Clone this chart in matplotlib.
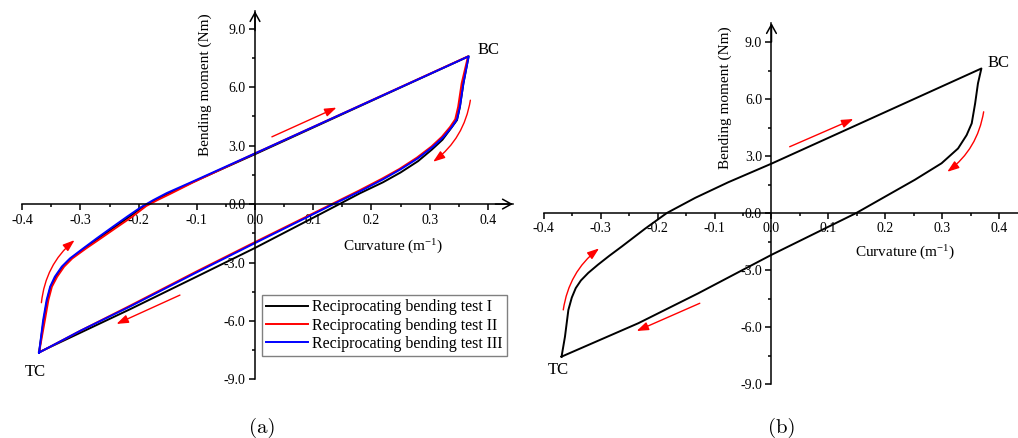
import matplotlib
matplotlib.use("Agg")
import matplotlib.pyplot as plt
from matplotlib.ticker import MultipleLocator, FuncFormatter

plt.rcParams["font.family"] = "Liberation Serif"
plt.rcParams["axes.unicode_minus"] = False
plt.rcParams["mathtext.fontset"] = "custom"
plt.rcParams["mathtext.rm"] = "Liberation Serif"
plt.rcParams["mathtext.it"] = "Liberation Serif:italic"

# reciprocating bending tests: curvature (1/m) vs bending moment (Nm)
# each loop starts at TC, goes up to BC and back down to TC
test1_curv = [-0.371, -0.363, -0.357, -0.351, -0.342, -0.330, -0.316, -0.293, -0.269,
              -0.241, -0.216, -0.192, -0.171, -0.149, -0.106, 0.000, 0.367,
              0.358, 0.352, 0.347, 0.337, 0.322, 0.304, 0.280, 0.250, 0.220,
              0.180, 0.145, 0.100, 0.000, -0.100, -0.215, -0.300, -0.371]
test1_moment = [-7.60, -5.95, -4.92, -4.24, -3.73, -3.21, -2.79, -2.27, -1.76,
                -1.18, -0.65, -0.12, 0.20, 0.54, 1.14, 2.56, 7.58,
                6.19, 4.99, 4.31, 3.90, 3.30, 2.80, 2.20, 1.62, 1.12,
                0.55, 0.00, -0.70, -2.25, -3.72, -5.40, -6.60, -7.60]

test2_curv = [-0.371, -0.361, -0.355, -0.349, -0.340, -0.328, -0.314, -0.290, -0.265,
              -0.237, -0.211, -0.187, -0.168, -0.146, -0.106, 0.000, 0.366,
              0.355, 0.349, 0.344, 0.335, 0.321, 0.303, 0.278, 0.248, 0.218,
              0.178, 0.132, 0.000, -0.100, -0.215, -0.300, -0.371]
test2_moment = [-7.62, -5.95, -4.92, -4.24, -3.73, -3.21, -2.79, -2.27, -1.76,
                -1.18, -0.65, -0.10, 0.20, 0.52, 1.12, 2.60, 7.58,
                6.19, 4.99, 4.35, 3.95, 3.45, 2.95, 2.38, 1.80, 1.30,
                0.68, 0.00, -1.95, -3.45, -5.22, -6.50, -7.62]

test3_curv = [-0.371, -0.364, -0.358, -0.352, -0.344, -0.332, -0.318, -0.295, -0.272,
              -0.245, -0.220, -0.197, -0.175, -0.152, -0.106, 0.000, 0.367,
              0.358, 0.352, 0.347, 0.338, 0.324, 0.306, 0.280, 0.250, 0.220,
              0.180, 0.135, 0.000, -0.100, -0.215, -0.300, -0.371]
test3_moment = [-7.62, -5.95, -4.92, -4.24, -3.73, -3.21, -2.79, -2.27, -1.76,
                -1.18, -0.65, -0.18, 0.20, 0.56, 1.17, 2.60, 7.58,
                6.19, 4.99, 4.35, 3.95, 3.45, 2.95, 2.35, 1.78, 1.27,
                0.65, 0.00, -2.00, -3.50, -5.26, -6.50, -7.62]

single_curv = [-0.369, -0.363, -0.357, -0.351, -0.344, -0.335, -0.322, -0.305, -0.285,
               -0.263, -0.222, -0.184, -0.134, -0.076, 0.000, 0.369,
               0.363, 0.358, 0.352, 0.343, 0.328, 0.299, 0.252, 0.199, 0.149,
               0.000, -0.129, -0.234, -0.369]
single_moment = [-7.56, -6.51, -5.10, -4.45, -3.95, -3.55, -3.15, -2.72, -2.25,
                 -1.76, -0.82, 0.00, 0.80, 1.62, 2.60, 7.61,
                 6.83, 5.77, 4.72, 4.10, 3.40, 2.62, 1.75, 0.85, 0.00,
                 -2.20, -4.23, -5.80, -7.56]

test_labels = ["Reciprocating bending test I", "Reciprocating bending test II",
               "Reciprocating bending test III"]
test_colors = ["black", "#ff0000", "#0000ff"]


def fmt_tick(v, pos):
    if abs(v) < 1e-9:
        v = 0.0
    return "%.1f" % v


def setup_axes(ax, xmax, ymax, x_arrow=True):
    ax.patch.set_alpha(0)
    ax.spines["top"].set_visible(False)
    ax.spines["right"].set_visible(False)
    ax.spines["left"].set_position(("data", 0))
    ax.spines["bottom"].set_position(("data", 0))
    ax.spines["left"].set_linewidth(1.1)
    ax.spines["bottom"].set_linewidth(1.1)
    ax.set_xlim(-0.4, xmax)
    ax.set_ylim(-9, ymax)
    ax.xaxis.set_major_locator(MultipleLocator(0.1))
    ax.xaxis.set_minor_locator(MultipleLocator(0.05))
    ax.yaxis.set_major_locator(MultipleLocator(3))
    ax.yaxis.set_minor_locator(MultipleLocator(1.5))
    ax.xaxis.set_major_formatter(FuncFormatter(fmt_tick))
    ax.yaxis.set_major_formatter(FuncFormatter(fmt_tick))
    ax.tick_params(which="major", direction="out", length=4.3, width=1.1,
                   labelsize=10, pad=2.5)
    ax.tick_params(which="minor", direction="out", length=2.3, width=1.1)
    arrow = dict(arrowstyle="->,head_length=0.45,head_width=0.25", lw=1.1,
                 color="black", mutation_scale=14, shrinkA=0, shrinkB=0)
    ax.annotate("", xy=(0, ymax), xytext=(0, ymax - 1), arrowprops=arrow,
                annotation_clip=False)
    if x_arrow:
        ax.annotate("", xy=(xmax, 0), xytext=(xmax - 0.03, 0), arrowprops=arrow,
                    annotation_clip=False)


def red_arrow(ax, start, end, rad=0.0):
    ax.annotate("", xy=end, xytext=start,
                arrowprops=dict(arrowstyle="-|>,head_length=0.7,head_width=0.25",
                                color="#ff0000", lw=1.0, mutation_scale=10,
                                shrinkA=0, shrinkB=0,
                                connectionstyle="arc3,rad=%s" % rad))


def labels(ax, bc_pos, tc_pos, ylab_pos, xlab_pos):
    ax.text(bc_pos[0], bc_pos[1], "BC", fontsize=12, va="center", ha="left")
    ax.text(tc_pos[0], tc_pos[1], "TC", fontsize=12, va="center", ha="left")
    ax.text(ylab_pos[0], ylab_pos[1], "Bending moment (Nm)", fontsize=11,
            rotation=90, ha="center", va="center")
    ax.text(xlab_pos[0], xlab_pos[1], "Curvature (m$^{-1}$)", fontsize=11,
            ha="center", va="center")


fig = plt.figure(figsize=(10.18, 4.38), dpi=100)

# (a) three repeated tests
ax1 = fig.add_axes([0.0218, 0.1336, 0.482, 0.841])
setup_axes(ax1, 0.443, 9.9)
tests = [(test1_curv, test1_moment), (test2_curv, test2_moment),
         (test3_curv, test3_moment)]
for (cx, my), lab, col in zip(tests, test_labels, test_colors):
    ax1.plot(cx, my, color=col, lw=1.4, label=lab, solid_joinstyle="round")
red_arrow(ax1, (0.029, 3.45), (0.14, 4.95))
red_arrow(ax1, (0.37, 5.33), (0.306, 2.17), rad=-0.2)
red_arrow(ax1, (-0.129, -4.67), (-0.238, -6.15))
red_arrow(ax1, (-0.367, -5.06), (-0.31, -1.85), rad=-0.2)
labels(ax1, (0.383, 7.9), (-0.395, -8.6), (-0.086, 6.15), (0.237, -2.2))
leg = ax1.legend(loc="lower left", bbox_to_anchor=(0.489, 0.064), fontsize=11.5,
                 frameon=True, fancybox=False, framealpha=1, edgecolor="#808080",
                 borderpad=0.25, labelspacing=0.15, handlelength=2.6,
                 handletextpad=0.3, borderaxespad=0)
leg.get_frame().set_linewidth(1.0)

# (b) single loop
ax2 = fig.add_axes([0.5343, 0.1233, 0.475, 0.824])
setup_axes(ax2, 0.45, 10, x_arrow=False)
ax2.plot(single_curv, single_moment, color="black", lw=1.4, solid_joinstyle="round")
red_arrow(ax2, (0.032, 3.49), (0.144, 4.95))
red_arrow(ax2, (0.373, 5.33), (0.309, 2.17), rad=-0.2)
red_arrow(ax2, (-0.126, -4.75), (-0.237, -6.21))
red_arrow(ax2, (-0.366, -5.1), (-0.303, -1.86), rad=-0.2)
labels(ax2, (0.38, 7.88), (-0.393, -8.24), (-0.082, 6.05), (0.235, -2.12))

fig.text(0.258, 0.023, "(a)", fontsize=15, family="cmr10", ha="center", va="center")
fig.text(0.768, 0.023, "(b)", fontsize=15, family="cmr10", ha="center", va="center")

fig.savefig("out.png", dpi=100)
